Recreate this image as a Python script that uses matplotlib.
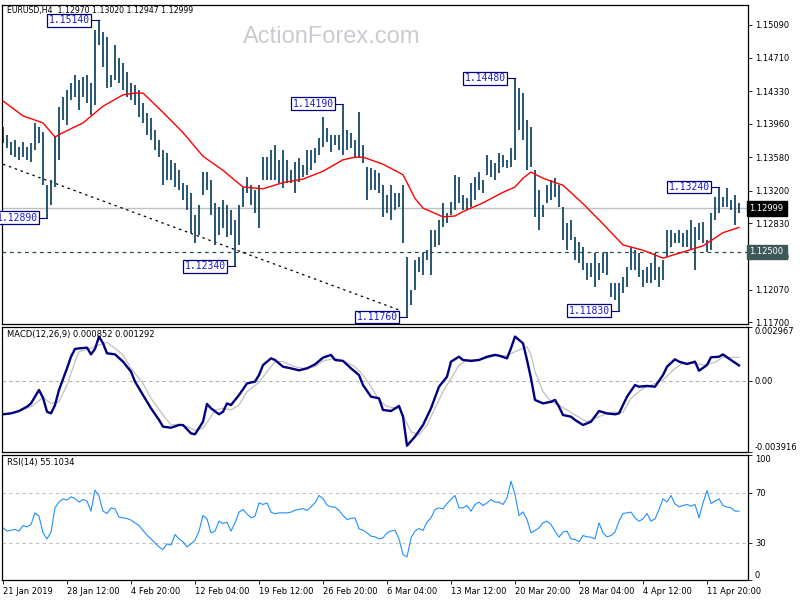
import matplotlib
matplotlib.use("Agg")
import matplotlib.pyplot as plt
import numpy as np

# EURUSD H4 bars (one bar drawn per 4 px slot of the picture)
bar_high = [
    1.1392, 1.1383, 1.1375, 1.1378, 1.1370, 1.1375, 1.1370, 1.1374, 1.1397, 1.1392,
    1.1387, 1.1326, 1.1332, 1.1381, 1.1415, 1.1427, 1.1434, 1.1442, 1.1452, 1.1446,
    1.1449, 1.1452, 1.1442, 1.1503, 1.1514, 1.1501, 1.1495, 1.1452, 1.1486, 1.1471,
    1.1465, 1.1455, 1.1442, 1.1440, 1.1434, 1.1420, 1.1408, 1.1403, 1.1389, 1.1378,
    1.1366, 1.1363, 1.1355, 1.1351, 1.1343, 1.1329, 1.1326, 1.1317, 1.1292, 1.1304,
    1.1341, 1.1341, 1.1332, 1.1306, 1.1301, 1.1309, 1.1304, 1.1298, 1.1286, 1.1304,
    1.1324, 1.1335, 1.1326, 1.1321, 1.1326, 1.1358, 1.1358, 1.1366, 1.1372, 1.1355,
    1.1366, 1.1355, 1.1343, 1.1352, 1.1357, 1.1349, 1.1366, 1.1366, 1.1368, 1.1380,
    1.1404, 1.1391, 1.1383, 1.1383, 1.1383, 1.1419, 1.1389, 1.1386, 1.1378, 1.1409,
    1.1372, 1.1347, 1.1346, 1.1343, 1.1340, 1.1326, 1.1315, 1.1326, 1.1317, 1.1317,
    1.1326, 1.1244, 1.1207, 1.1241, 1.1244, 1.1249, 1.1252, 1.1275, 1.1275, 1.1286,
    1.1306, 1.1294, 1.1307, 1.1338, 1.1335, 1.1315, 1.1311, 1.1329, 1.1335, 1.1341,
    1.1332, 1.1360, 1.1355, 1.1351, 1.1363, 1.1360, 1.1355, 1.1368, 1.1448, 1.1437,
    1.1431, 1.1400, 1.1392, 1.1343, 1.1321, 1.1304, 1.1326, 1.1332, 1.1334, 1.1326,
    1.1301, 1.1283, 1.1286, 1.1267, 1.1261, 1.1256, 1.1237, 1.1237, 1.1249, 1.1237,
    1.1249, 1.1250, 1.1215, 1.1215, 1.1215, 1.1222, 1.1233, 1.1256, 1.1252, 1.1249,
    1.1229, 1.1233, 1.1237, 1.1249, 1.1233, 1.1241, 1.1275, 1.1275, 1.1272, 1.1275,
    1.1272, 1.1275, 1.1286, 1.1278, 1.1283, 1.1284, 1.1264, 1.1294, 1.1313, 1.1324,
    1.1313, 1.1323, 1.1309, 1.1315, 1.1306,
]
bar_low = [
    1.1374, 1.1368, 1.1360, 1.1358, 1.1355, 1.1358, 1.1355, 1.1352, 1.1366, 1.1374,
    1.1326, 1.1289, 1.1304, 1.1324, 1.1355, 1.1400, 1.1395, 1.1423, 1.1427, 1.1412,
    1.1427, 1.1420, 1.1406, 1.1417, 1.1486, 1.1461, 1.1437, 1.1438, 1.1446, 1.1442,
    1.1434, 1.1427, 1.1423, 1.1417, 1.1404, 1.1397, 1.1383, 1.1378, 1.1366, 1.1358,
    1.1326, 1.1332, 1.1332, 1.1324, 1.1321, 1.1309, 1.1298, 1.1272, 1.1260, 1.1269,
    1.1315, 1.1321, 1.1292, 1.1258, 1.1269, 1.1277, 1.1267, 1.1269, 1.1234, 1.1258,
    1.1301, 1.1317, 1.1304, 1.1294, 1.1277, 1.1332, 1.1332, 1.1332, 1.1332, 1.1329,
    1.1323, 1.1329, 1.1329, 1.1317, 1.1330, 1.1335, 1.1338, 1.1343, 1.1351, 1.1360,
    1.1370, 1.1375, 1.1364, 1.1372, 1.1366, 1.1360, 1.1366, 1.1368, 1.1357, 1.1357,
    1.1351, 1.1309, 1.1321, 1.1321, 1.1317, 1.1290, 1.1294, 1.1286, 1.1298, 1.1301,
    1.1260, 1.1176, 1.1190, 1.1207, 1.1227, 1.1224, 1.1241, 1.1224, 1.1256, 1.1258,
    1.1278, 1.1283, 1.1292, 1.1298, 1.1306, 1.1298, 1.1298, 1.1301, 1.1309, 1.1321,
    1.1317, 1.1338, 1.1335, 1.1332, 1.1340, 1.1347, 1.1346, 1.1347, 1.1355, 1.1389,
    1.1378, 1.1343, 1.1347, 1.1290, 1.1275, 1.1290, 1.1306, 1.1309, 1.1313, 1.1301,
    1.1264, 1.1252, 1.1264, 1.1241, 1.1237, 1.1229, 1.1218, 1.1222, 1.1210, 1.1218,
    1.1226, 1.1224, 1.1199, 1.1195, 1.1183, 1.1203, 1.1210, 1.1229, 1.1229, 1.1222,
    1.1210, 1.1215, 1.1215, 1.1218, 1.1210, 1.1218, 1.1244, 1.1256, 1.1260, 1.1260,
    1.1256, 1.1256, 1.1252, 1.1229, 1.1264, 1.1260, 1.1250, 1.1252, 1.1286, 1.1294,
    1.1301, 1.1301, 1.1298, 1.1281, 1.1294,
]

# red moving average
ma_bar = [0, 5, 10, 13, 15, 20, 25, 30, 33, 35, 40, 45, 50, 55, 60, 65, 70, 75, 80, 85,
          88, 90, 95, 100, 103, 105, 110, 113, 115, 120, 125, 128, 130, 132, 135, 140,
          145, 150, 155, 160, 165, 170, 175, 180, 184]
ma_val = [1.1422, 1.1405, 1.1397, 1.1381, 1.1386, 1.1397, 1.1416, 1.1429, 1.1431, 1.1431,
          1.1409, 1.1386, 1.1359, 1.1343, 1.1324, 1.1322, 1.1329, 1.1333, 1.1342, 1.1355,
          1.1358, 1.1358, 1.1350, 1.1338, 1.1311, 1.1300, 1.1290, 1.1291, 1.1296, 1.1306,
          1.1318, 1.1324, 1.1334, 1.1341, 1.1334, 1.1326, 1.1305, 1.1282, 1.1258, 1.1252,
          1.1243, 1.1250, 1.1257, 1.1272, 1.1278]

# dotted trend line and horizontal levels
trend_bar = [0, 99]
trend_price = [1.1350, 1.1184]
last_price = 1.12999
level_price = 1.1250

# swing high / low labels
hl_bar = [24, 11, 58, 101, 85, 128, 154, 179]
hl_price = [1.1514, 1.1289, 1.1234, 1.1176, 1.1419, 1.1448, 1.1183, 1.1324]

price_ticks = [1.1509, 1.1471, 1.1433, 1.1396, 1.1358, 1.1320, 1.1283, 1.1245, 1.1207, 1.1170]

# MACD(12,26,9), values in units of 1e-4
macd_bar = [0, 2, 4, 6, 7, 9, 10, 11, 12, 13, 14, 16, 17, 18, 19, 21, 22, 23, 24, 25,
            26, 28, 30, 32, 33, 35, 37, 39, 40, 42, 44, 45, 47, 48, 50, 51, 52, 54, 55, 56,
            57, 59, 61, 63, 64, 65, 67, 68, 70, 72, 74, 76, 78, 80, 82, 83, 85, 87, 89, 90,
            92, 94, 95, 97, 99, 100, 101, 103, 105, 107, 109, 111, 112, 114, 115, 117, 119,
            121, 123, 124, 126, 127, 128, 130, 131, 132, 133, 135, 137, 138, 139, 140, 142,
            143, 145, 147, 149, 151, 153, 154, 156, 158, 159, 161, 163, 165, 166, 168, 169,
            171, 173, 174, 176, 177, 179, 180, 181, 184]
macd_main = [-18.4, -17.9, -16.6, -14.2, -12.4, -5.0, -9.3, -17.0, -17.9, -13.3,
             -5.0, 6.9, 13.3, 17.6, 17.9, 18.3, 14.6, 17.6, 24.4, 20.7,
             15.2, 14.6, 10.6, 5.1, -0.4, -7.8, -15.1, -21.5, -25.2, -25.8,
             -24.3, -24.3, -28.9, -29.4, -22.5, -12.7, -15.1, -18.4, -17.0, -12.4,
             -13.3, -7.8, -1.4, -0.4, 3.2, 8.7, 12.4, 11.5, 7.8, 6.9,
             5.8, 6.9, 9.1, 12.8, 14.3, 11.5, 11.0, 6.9, 3.2, -2.3,
             -8.7, -9.6, -16.0, -16.6, -13.8, -19.7, -35.7, -30.7, -24.3, -15.1,
             -3.2, 2.3, 10.6, 13.3, 11.5, 11.0, 11.5, 13.3, 14.3, 13.9,
             12.4, 18.0, 24.4, 20.7, 11.5, 1.4, -10.5, -12.4, -11.5, -10.5,
             -14.2, -18.8, -19.7, -21.5, -24.3, -22.5, -16.6, -17.9, -18.4, -17.9,
             -8.7, -2.3, -3.2, -2.8, -3.2, 3.2, 7.8, 11.9, 10.6, 9.3,
             10.6, 5.6, 8.7, 13.0, 13.3, 14.6, 13.0, 8.5]
sig_bar = [0, 3, 7, 10, 12, 14, 16, 18, 19, 22, 24, 26, 28, 30, 32, 35, 37, 40, 42, 44,
           46, 48, 50, 52, 53, 55, 57, 59, 61, 64, 66, 68, 70, 73, 75, 78, 80, 83, 85, 88,
           90, 92, 94, 96, 99, 100, 102, 104, 106, 108, 110, 112, 114, 116, 118, 121, 123,
           126, 128, 131, 132, 133, 135, 137, 139, 141, 143, 146, 148, 150, 152, 155, 157,
           160, 162, 165, 168, 170, 173, 175, 178, 180, 184]
sig_val = [-18.4, -17.3, -14.2, -9.3, -12.4, -11.5, -2.3, 10.6, 16.1, 17.9,
           19.8, 21.2, 17.9, 14.3, 6.9, -1.4, -9.6, -18.8, -24.3, -23.9,
           -25.2, -27.1, -26.1, -19.7, -16.0, -15.1, -16.0, -13.3, -5.9, -0.8,
           5.1, 10.6, 10.6, 7.8, 6.9, 7.8, 11.0, 12.4, 11.1, 7.8,
           3.2, -3.2, -10.5, -14.2, -15.1, -18.8, -28.0, -29.8, -24.3, -15.1,
           -5.9, 1.4, 8.7, 11.5, 11.5, 12.4, 13.9, 13.9, 16.1, 18.8,
           14.3, 5.1, -5.9, -11.5, -13.3, -16.0, -18.8, -22.5, -20.6, -18.8,
           -17.3, -17.3, -9.6, -4.1, -2.3, 0.5, 6.9, 9.7, 9.7, 8.7,
           10.2, 13.0, 12.9]
macd_top, macd_bottom = 0.002967, -0.003916

# RSI(14), one value per bar slot
rsi = [41.7, 39.1, 39.9, 40.4, 39.1, 43.6, 42.5, 44.4, 53.7, 51.1,
       37.7, 32.9, 38.3, 57.7, 62.5, 64.9, 63.9, 66.5, 65.2, 62.3,
       64.4, 63.1, 55.1, 71.9, 67.1, 55.1, 53.2, 57.7, 56.9, 50.3,
       49.7, 49.2, 47.9, 45.7, 43.6, 39.6, 35.9, 32.9, 29.7, 26.5,
       24.4, 28.9, 27.9, 36.4, 32.9, 30.5, 26.5, 28.9, 31.9, 39.1,
       51.6, 48.9, 37.7, 39.1, 47.1, 45.2, 46.3, 39.1, 45.7, 54.3,
       56.4, 52.9, 49.7, 51.1, 61.7, 60.4, 61.7, 54.3, 52.9, 53.7,
       53.7, 53.7, 54.3, 55.9, 56.4, 57.2, 55.6, 58.5, 61.7, 67.6,
       65.2, 59.9, 58.5, 58.3, 55.6, 51.6, 48.4, 49.2, 49.7, 40.9,
       39.9, 37.7, 35.1, 34.5, 32.9, 33.7, 37.7, 39.1, 39.9, 32.9,
       20.4, 18.5, 33.7, 39.1, 41.2, 39.6, 46.3, 49.7, 56.4, 57.7,
       56.9, 61.2, 64.4, 67.6, 57.7, 57.7, 59.6, 55.1, 60.4, 62.3,
       59.6, 61.7, 64.4, 62.3, 62.3, 60.4, 65.7, 79.1, 68.4, 51.6,
       54.5, 48.4, 37.7, 39.6, 41.7, 45.7, 47.1, 44.4, 39.1, 34.3,
       38.3, 39.1, 32.9, 32.4, 30.5, 35.6, 34.5, 34.3, 32.9, 45.7,
       37.7, 34.5, 35.6, 38.3, 47.1, 53.2, 53.7, 54.3, 49.7, 47.1,
       48.9, 53.2, 47.1, 48.9, 56.4, 64.9, 62.5, 67.6, 60.9, 58.5,
       59.6, 60.4, 59.1, 60.4, 49.7, 61.7, 71.6, 61.2, 63.1, 64.9,
       59.6, 58.3, 57.7, 55.1, 55.1]

date_pos = [0, 16, 32, 48, 64, 80, 96, 112, 128, 144, 160, 176]
date_labels = ["21 Jan 2019", "28 Jan 12:00", "4 Feb 20:00", "12 Feb 04:00", "19 Feb 12:00",
               "26 Feb 20:00", "6 Mar 04:00", "13 Mar 12:00", "20 Mar 20:00", "28 Mar 04:00",
               "4 Apr 12:00", "11 Apr 20:00"]

BAR = "#174a68"
NAVY = "#000080"
FS = 6

fig = plt.figure(figsize=(8, 6), dpi=100)
W, H = 800, 600


def panel(top, bottom):
    a = fig.add_axes([2 / W, 1 - bottom / H, 746 / W, (bottom - top) / H])
    a.set_xlim(-0.25, 186.25)
    for s in a.spines.values():
        s.set_linewidth(0.9)
        s.set_color("black")
    a.yaxis.tick_right()
    a.tick_params(axis="y", direction="out", length=3, width=0.6, labelsize=FS, pad=2)
    a.tick_params(axis="x", bottom=False, labelbottom=False)
    return a


ax = panel(5, 324)
ax_m = panel(327, 452)
ax_r = panel(455, 580)

# ---- price panel ----
idx = np.arange(len(bar_high))
ax.set_ylim(1.11680, 1.15313)
ax.axhline(last_price, color="#c0c0c0", lw=1, zorder=1)
ax.axhline(level_price, color="#2f4f4f", lw=0.9, ls=(0, (3, 3)), zorder=1)
ax.plot(trend_bar, trend_price, color="black", lw=0.9, ls=(0, (2, 3)), zorder=1)
ax.vlines(idx, bar_low, bar_high, color=BAR, lw=1.3, zorder=2)
ax.plot(ma_bar, ma_val, color="red", lw=1, zorder=3)

for b, p in zip(hl_bar, hl_price):
    ax.plot([b - 2.3, b], [p, p], color=NAVY, lw=0.8, zorder=6)
    ax.text(b - 2.3, p, f"{p:.5f}", ha="right", va="center", family="DejaVu Sans Mono",
            fontsize=7, color="#1c1cc8", zorder=7,
            bbox=dict(boxstyle="square,pad=0.15", fc="white", ec=NAVY, lw=0.9))

ax.set_yticks(price_ticks)
ax.set_yticklabels([f"{v:.5f}" for v in price_ticks])
ax.text(1.002, last_price, f"{last_price:.5f}", transform=ax.get_yaxis_transform(),
        ha="left", va="center", fontsize=FS, color="white", clip_on=False, zorder=10,
        bbox=dict(boxstyle="square,pad=0.35", fc="black", ec="black"))
ax.text(1.002, level_price, f"{level_price:.5f}", transform=ax.get_yaxis_transform(),
        ha="left", va="center", fontsize=FS, color="white", clip_on=False, zorder=10,
        bbox=dict(boxstyle="square,pad=0.35", fc="#3e5858", ec="#3e5858"))

ax.text(0.007, 0.984, "EURUSD,H4  1.12970 1.13020 1.12947 1.12999", transform=ax.transAxes,
        ha="left", va="center", fontsize=5.6, color="black")
fig.text(332 / W, 1 - 37 / H, "ActionForex.com", family="Liberation Sans", fontsize=17,
         color="#c8cbd0", ha="center", va="center")

# ---- MACD panel ----
ax_m.set_ylim(macd_bottom, macd_top)
ax_m.axhline(0, color="#b0b0b0", lw=0.8, ls=(0, (3, 3)))
ax_m.plot(sig_bar, np.array(sig_val) * 1e-4, color="#c0c0c0", lw=0.9)
ax_m.plot(macd_bar, np.array(macd_main) * 1e-4, color=NAVY, lw=1.7)
ax_m.set_yticks([macd_bottom, 0, macd_top])
ax_m.set_yticklabels([f"{macd_bottom:.6f}", "0.00", f"{macd_top:.6f}"])
labs = ax_m.get_yticklabels()
labs[0].set_va("bottom")
labs[2].set_va("top")
ax_m.text(0.007, 0.936, "MACD(12,26,9) 0.000852 0.001292", transform=ax_m.transAxes,
          ha="left", va="center", fontsize=FS, color="black")

# ---- RSI panel ----
ax_r.set_ylim(0, 100)
ax_r.axhline(30, color="#c0c0c0", lw=0.8, ls=(0, (3, 3)))
ax_r.axhline(70, color="#c0c0c0", lw=0.8, ls=(0, (3, 3)))
ax_r.plot(idx, rsi, color="#1e90ff", lw=0.8)
ax_r.set_yticks([0, 30, 70, 100])
ax_r.set_yticklabels(["0", "30", "70", "100"])
labs = ax_r.get_yticklabels()
labs[0].set_va("bottom")
labs[3].set_va("top")
ax_r.text(0.007, 0.936, "RSI(14) 55.1034", transform=ax_r.transAxes,
          ha="left", va="center", fontsize=FS, color="black")
ax_r.tick_params(axis="x", bottom=True, labelbottom=True, direction="out", length=3,
                 width=0.6, labelsize=FS, pad=2)
ax_r.set_xticks(date_pos)
ax_r.set_xticklabels(date_labels, ha="left")

fig.savefig("out.png", dpi=100, facecolor="white")
